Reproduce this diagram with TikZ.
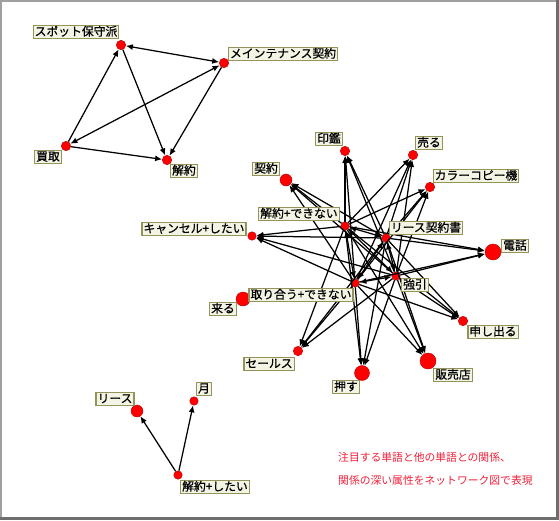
\documentclass[tikz,border=0pt]{standalone}
\usepackage{fontspec}
\newfontfamily\jpfont{Noto Sans CJK JP}
\newfontfamily\jpgrueso[FakeBold=0.6]{Noto Sans CJK JP}
\usetikzlibrary{arrows.meta}
\definecolor{rojo}{HTML}{FF0000}
\definecolor{bordenodo}{HTML}{B00000}
\definecolor{fondoetq}{HTML}{F4F4E4}
\definecolor{bordeetq}{HTML}{94945A}
\definecolor{marcoclaro}{HTML}{A0A0A0}
\definecolor{marcooscuro}{HTML}{6E6E6E}
\definecolor{textorojo}{HTML}{F0203A}
\tikzset{
  punto/.style={circle, fill=rojo, draw=bordenodo, line width=0.4pt, inner sep=0pt, minimum size=#1},
  punto/.default=9.5pt,
  etq/.style={draw=bordeetq, fill=fondoetq, line width=1.2pt, inner xsep=1.5pt, inner ysep=1pt,
              text height=9.5pt, text depth=2pt, font=\jpgrueso\fontsize{11.8}{12}\selectfont},
  flecha/.style={-{Latex[length=7pt,width=6pt]}, line width=1.25pt},
  doble/.style={{Latex[length=7pt,width=6pt]}-{Latex[length=7pt,width=6pt]}, line width=1.25pt},
}

\begin{document}
\begin{tikzpicture}[x=1pt, y=-1pt]
  \useasboundingbox (0,0) rectangle (559,520);
  \fill[white] (0,0) rectangle (559,520);
  % marco
  \draw[marcoclaro, line width=2pt] (1,520) -- (1,1) -- (559,1);
  \draw[marcooscuro, line width=3pt] (557.5,0) -- (557.5,518.5) -- (0,518.5);

  % grupo de arriba
  \node[punto] (spot) at (121,45) {};
  \node[punto] (maint) at (224,63) {};
  \node[punto] (kaitori) at (66,146) {};
  \node[punto] (kaiyaku) at (167,160) {};

  % grupo central
  \node[punto] (inkan) at (345,151) {};
  \node[punto] (uru) at (413,155) {};
  \node[punto] (color) at (430,187) {};
  \node[punto=12pt] (keiyaku) at (286,180) {};
  \node[punto=8.5pt] (kaiyakuNG) at (345,226) {};
  \node[punto=8.5pt] (cancel) at (252,236) {};
  \node[punto=8.5pt] (lease) at (386,238) {};
  \node[punto=16pt] (denwa) at (493,252) {};
  \node[punto=8.5pt] (gouin) at (396,276) {};
  \node[punto=8.5pt] (toriau) at (355,283) {};
  \node[punto=14pt] (kuru) at (243,299) {};
  \node[punto] (moushideru) at (463,321) {};
  \node[punto] (sales) at (298,351) {};
  \node[punto=15pt] (osu) at (362,373) {};
  \node[punto=16pt] (hanbai) at (428,361) {};

  % grupo de abajo
  \node[punto=12pt] (riisu) at (137,411) {};
  \node[punto=8.5pt] (tsuki) at (194,401) {};
  \node[punto=8.5pt] (kaiyakuW) at (178,475) {};

  % conexiones
  \draw[doble] (spot) -- (maint);
  \draw[flecha] (kaitori) -- (spot);
  \draw[doble] (kaitori) -- (maint);
  \draw[flecha] (spot) -- (kaiyaku);
  \draw[flecha] (maint) -- (kaiyaku);
  \draw[flecha] (kaitori) -- (kaiyaku);

  \foreach \h in {kaiyakuNG,lease,gouin,toriau}
    \foreach \p in {inkan,uru,color,keiyaku,cancel,denwa,moushideru,hanbai,osu,sales}
      \draw[flecha] (\h) -- (\p);
  \foreach \a/\b in {kaiyakuNG/lease,kaiyakuNG/gouin,kaiyakuNG/toriau,lease/gouin,lease/toriau,gouin/toriau}
    \draw[doble] (\a) -- (\b);

  \draw[flecha] (kaiyakuW) -- (riisu);
  \draw[flecha] (kaiyakuW) -- (tsuki);

  % etiquetas
  \node[etq] (spotL) at (76,32) {スポット保守派};
  \node[etq] (maintL) at (283,54) {メインテナンス契約};
  \node[etq] (kaitoriL) at (48,157) {買取};
  \node[etq] (kaiyakuL) at (184,171) {解約};
  \node[etq] (inkanL) at (329,139) {印鑑};
  \node[etq] (uruL) at (429,143) {売る};
  \node[etq] (colorL) at (476,176) {カラーコピー機};
  \node[etq] (keiyakuL) at (266,169) {契約};
  \node[etq] (kaiyakuNGL) at (299,214) {解約+できない};
  \node[etq] (cancelL) at (194,229) {キャンセル+したい};
  \node[etq] (leaseL) at (426,228) {リース契約書};
  \node[etq] (denwaL) at (515,246) {電話};
  \node[etq] (gouinL) at (415,285) {強引};
  \node[etq] (toriauL) at (301,295) {取り合う+できない};
  \node[etq] (kuruL) at (223,309) {来る};
  \node[etq] (moushideruL) at (493,332) {申し出る};
  \node[etq] (salesL) at (269,364) {セールス};
  \node[etq] (osuL) at (346,387) {押す};
  \node[etq] (hanbaiL) at (453,375) {販売店};
  \node[etq] (riisuL) at (115,399) {リース};
  \node[etq] (tsukiL) at (204,389) {月};
  \node[etq] (kaiyakuWL) at (215,487) {解約+したい};

  % nota
  \node[anchor=west, inner sep=0pt, text=textorojo, font=\jpfont\fontsize{10.8}{12}\selectfont]
    (nota1) at (338,457) {注目する単語と他の単語との関係、};
  \node[anchor=west, inner sep=0pt, text=textorojo, font=\jpfont\fontsize{10.8}{12}\selectfont]
    (nota2) at (338,480) {関係の深い属性をネットワーク図で表現};
\end{tikzpicture}
\end{document}
